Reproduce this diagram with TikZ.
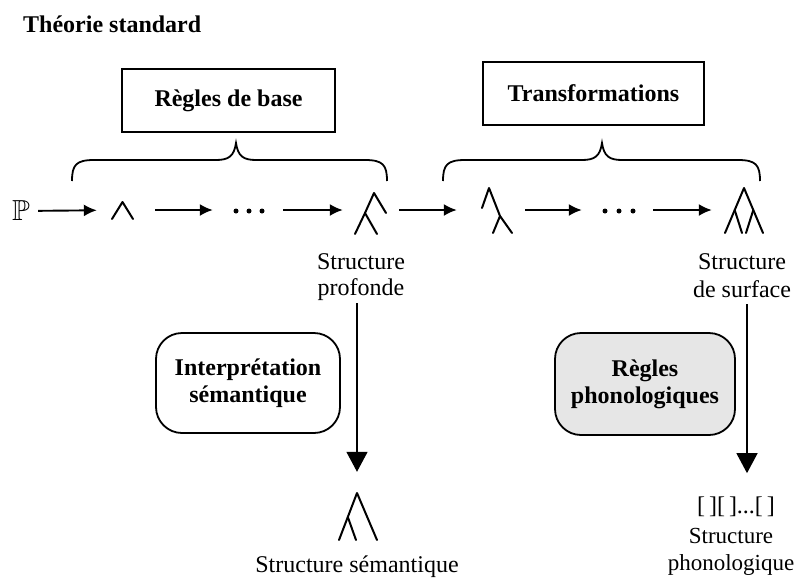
\documentclass[tikz,border=0pt]{standalone}
\usepackage{amssymb}
\usepackage{fontspec}
\setmainfont{Liberation Serif}
\usetikzlibrary{arrows.meta}

\definecolor{boxgrey}{HTML}{E6E6E6}

% curly brace: left end, tip, right end (x); ends at y=181, bar at y=160, tip at y=143
\newcommand\curlybrace[3]{%
  \draw[bracestyle] (#1,181) .. controls (#1,165) and ({#1+4},160) .. ({#1+22},160)
    -- ({#2-20},160) .. controls ({#2-7},160) and ({#2-2},156) .. (#2,143)
    .. controls ({#2+2},156) and ({#2+7},160) .. ({#2+20},160)
    -- ({#3-22},160) .. controls ({#3-4},160) and (#3,165) .. (#3,181);}

\tikzset{
  lbl/.style={font=\fontsize{24}{26}\selectfont, inner sep=0pt, align=center},
  blbl/.style={font=\fontsize{24}{27}\selectfont\bfseries, align=center},
  rulebox/.style={blbl, draw, line width=1.8pt, minimum width=213pt, minimum height=63pt, inner sep=0pt},
  roundbox/.style={blbl, draw, line width=1.8pt, rounded corners=26pt, minimum width=184pt, minimum height=100pt, inner sep=0pt},
  slot/.style={inner sep=0pt, minimum height=20pt},
  harr/.style={line width=1.9pt, -{Latex[length=13pt,width=12pt]}},
  varr/.style={line width=1.5pt, -{Triangle[length=20pt,width=21pt]}},
  tree/.style={line width=2pt, line cap=round, line join=round},
  bracestyle/.style={line width=1.8pt},
}

\begin{document}
\begin{tikzpicture}[x=1pt, y=-1pt]
\useasboundingbox (0,0) rectangle (797,581);

% title
\node[blbl, anchor=base west, inner sep=0pt] (title) at (23,32) {Théorie standard};

% rule components
\node[rulebox] (base) at (228.5,100.5) {Règles de base};
\node[rulebox, minimum width=221pt] (transf) at (593.5,93.5) {Transformations};

\curlybrace{72}{236}{387}
\curlybrace{443}{602}{760}

% derivation row: slots for each stage
\node[slot, minimum width=30pt, font=\fontsize{29}{30}\selectfont] (p) at (21,211) {$\mathbb{P}$};
\node[slot, minimum width=58pt] (c1) at (126,210) {};
\node[slot, minimum width=70pt] (d1) at (248,210) {};
\node[slot, minimum width=56pt] (t1) at (371,210) {};
\node[slot, minimum width=68pt] (t2) at (491,210) {};
\node[slot, minimum width=71pt] (d2) at (617.5,210) {};
\node[slot, minimum width=64pt] (t3) at (744,210) {};

\draw[harr, shorten <=2pt] (p) -- (c1);
\draw[harr] (c1) -- (d1);
\draw[harr] (d1) -- (t1);
\draw[harr] (t1) -- (t2);
\draw[harr] (t2) -- (d2);
\draw[harr] (d2) -- (t3);

% stage symbols
\draw[tree] (112,219) -- (122.5,202) -- (133,219);
\fill (236,211) circle (2.5) (249,211) circle (2.5) (262,211) circle (2.5);
\draw[tree] (365,213) -- (374,193) -- (386,213);
\draw[tree] (355,234) -- (365,213) -- (377,234);
\draw[tree] (482,208) -- (489,188) -- (500,216);
\draw[tree] (493,233) -- (500,216) -- (512,233);
\fill (605,211) circle (2.5) (619,211) circle (2.5) (633,211) circle (2.5);
\draw[tree] (725,233) -- (744,188) -- (763,233);
\draw[tree] (734.7,210) -- (742,233);
\draw[tree] (753.3,210) -- (746,233);

% structure labels
\node[lbl] (sp) at (361,277.5) {Structure\\profonde};
\node[lbl, font=\fontsize{24}{28}\selectfont] (sd) at (742,276) {Structure\\de surface};

% interpretive components
\node[roundbox, fill=white] (interp) at (248,383) {Interprétation\\sémantique};
\node[roundbox, fill=boxgrey, minimum width=180pt, minimum height=102pt] (phono) at (645,384) {Règles\\phonologiques};

% semantic structure
\node[slot, minimum width=40pt, minimum height=48pt] (semtree) at (357,516) {};
\draw[tree] (339,540) -- (357,493) -- (377,540);
\draw[tree] (347.8,517) -- (356,540);
\node[lbl, anchor=base] (sem) at (357,572) {Structure sémantique};

% phonological structure
\node[lbl, anchor=base] (brk) at (736,513) {[\,][\,]...[\,]};
\node[lbl, font=\fontsize{23}{27}\selectfont, anchor=base] (phon) at (731,570) {Structure\\phonologique};

\draw[varr, shorten <=2pt, shorten >=20pt] (sp.south -| semtree.north) -- (semtree.north);
\draw[varr, shorten <=6pt, shorten >=23pt] ([xshift=5pt]sd.south) -- ([xshift=5pt]sd.south |- brk.north);
\end{tikzpicture}
\end{document}
